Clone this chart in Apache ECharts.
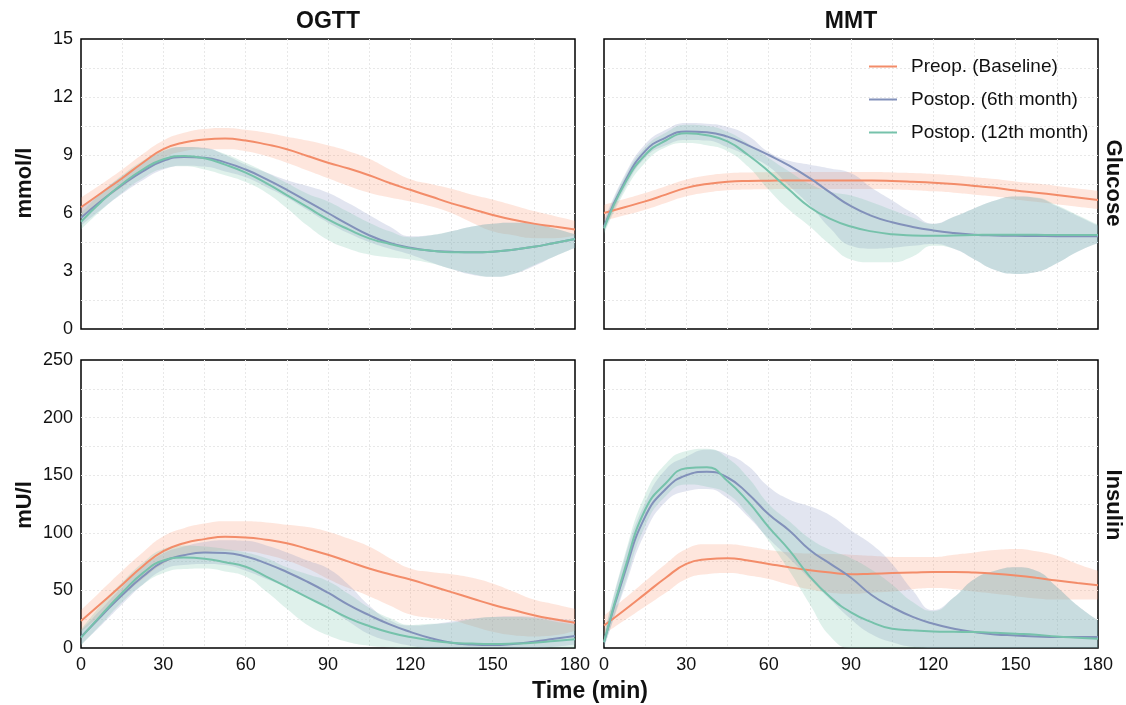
<!DOCTYPE html>
<html>
<head>
<meta charset="utf-8">
<script src="https://cdn.jsdelivr.net/npm/echarts@6/dist/echarts.min.js"></script>
<style>
  html, body { margin: 0; padding: 0; background: #fff; }
  #main { width: 1126px; height: 705px; }
</style>
</head>
<body>
<div id="main"></div>
<script>
// time points (min)
var times = [0, 7.5, 15, 22.5, 30, 37.5, 45, 52.5, 60, 67.5, 75, 82.5, 90,
             97.5, 105, 112.5, 120, 127.5, 135, 142.5, 150, 157.5, 165, 172.5, 180];
var groupNames = ['Preop. (Baseline)', 'Postop. (6th month)', 'Postop. (12th month)'];

// OGTT glucose (mmol/l)
var ogttGluPre   = [6.3, 7.05, 7.8, 8.6, 9.3, 9.65, 9.8, 9.85, 9.75, 9.55, 9.3, 8.95, 8.6, 8.3, 7.95, 7.55, 7.2, 6.85, 6.5, 6.2, 5.9, 5.65, 5.45, 5.3, 5.15];
var ogttGluPreLo = [5.8, 6.6, 7.35, 8.15, 8.85, 9.2, 9.3, 9.3, 9.2, 8.95, 8.6, 8.2, 7.8, 7.4, 7.05, 6.8, 6.6, 6.35, 6.0, 5.5, 5.05, 4.85, 4.7, 4.7, 4.85];
var ogttGluPreHi = [6.8, 7.5, 8.25, 9.05, 9.75, 10.15, 10.35, 10.4, 10.3, 10.15, 9.95, 9.75, 9.5, 9.2, 8.8, 8.25, 7.75, 7.5, 7.25, 6.95, 6.7, 6.4, 6.1, 5.85, 5.6];
var ogttGlu6     = [5.75, 6.65, 7.45, 8.15, 8.7, 8.9, 8.86, 8.62, 8.25, 7.75, 7.2, 6.6, 6.0, 5.4, 4.85, 4.45, 4.2, 4.05, 4.0, 3.97, 4.0, 4.1, 4.25, 4.45, 4.65];
var ogttGlu6Lo   = [5.35, 6.2, 7.0, 7.7, 8.25, 8.45, 8.4, 8.15, 7.85, 7.35, 6.8, 6.15, 5.5, 4.95, 4.5, 4.15, 3.85, 3.45, 3.1, 2.8, 2.7, 2.85, 3.25, 3.75, 4.2];
var ogttGlu6Hi   = [6.25, 7.1, 7.9, 8.6, 9.2, 9.42, 9.38, 9.0, 8.5, 8.1, 7.7, 7.4, 7.05, 6.5, 5.9, 5.3, 4.8, 4.85, 5.05, 5.3, 5.45, 5.5, 5.45, 5.2, 4.9];
var ogttGlu12    = [5.55, 6.6, 7.5, 8.25, 8.78, 8.95, 8.83, 8.5, 8.09, 7.55, 6.93, 6.3, 5.67, 5.15, 4.69, 4.4, 4.17, 4.05, 3.97, 3.97, 4.0, 4.1, 4.25, 4.45, 4.65];
var ogttGlu12Lo  = [5.15, 6.15, 7.05, 7.8, 8.3, 8.42, 8.25, 7.95, 7.6, 7.05, 6.25, 5.35, 4.6, 4.15, 3.85, 3.7, 3.6, 3.4, 3.1, 2.85, 2.7, 2.85, 3.3, 3.75, 4.2];
var ogttGlu12Hi  = [6.0, 7.05, 7.95, 8.7, 9.25, 9.42, 9.35, 9.05, 8.6, 8.1, 7.55, 7.0, 6.6, 6.05, 5.5, 5.05, 4.75, 4.85, 5.05, 5.3, 5.45, 5.5, 5.45, 5.2, 4.9];

// MMT glucose (mmol/l)
var mmtGluPre    = [6.0, 6.3, 6.6, 6.95, 7.3, 7.5, 7.62, 7.66, 7.67, 7.68, 7.68, 7.68, 7.68, 7.68, 7.66, 7.62, 7.57, 7.5, 7.4, 7.3, 7.16, 7.05, 6.93, 6.8, 6.67];
var mmtGluPreLo  = [5.6, 5.88, 6.17, 6.52, 6.86, 7.06, 7.18, 7.22, 7.23, 7.24, 7.24, 7.24, 7.24, 7.24, 7.22, 7.18, 7.12, 7.05, 6.95, 6.85, 6.7, 6.58, 6.45, 6.32, 6.2];
var mmtGluPreHi  = [6.42, 6.72, 7.03, 7.38, 7.73, 7.94, 8.06, 8.1, 8.11, 8.12, 8.12, 8.12, 8.12, 8.12, 8.1, 8.07, 8.02, 7.95, 7.85, 7.76, 7.63, 7.52, 7.4, 7.27, 7.15];
var mmtGlu6      = [5.3, 7.6, 9.2, 9.9, 10.22, 10.18, 9.95, 9.5, 9.0, 8.45, 7.8, 7.05, 6.35, 5.85, 5.52, 5.28, 5.1, 4.97, 4.88, 4.84, 4.82, 4.81, 4.8, 4.8, 4.8];
var mmtGlu6Lo    = [5.0, 7.25, 8.85, 9.5, 9.78, 9.75, 9.4, 8.95, 8.4, 7.4, 6.4, 5.2, 4.3, 4.15, 4.2, 4.3, 4.4, 4.15, 3.6, 3.05, 2.85, 2.95, 3.4, 4.0, 4.45];
var mmtGlu6Hi    = [5.6, 7.95, 9.55, 10.3, 10.66, 10.62, 10.45, 10.0, 9.15, 8.7, 8.5, 8.3, 8.05, 7.3, 6.65, 6.0, 5.45, 5.8, 6.25, 6.65, 6.85, 6.78, 6.35, 5.85, 5.35];
var mmtGlu12     = [5.2, 7.5, 9.0, 9.75, 10.12, 10.02, 9.7, 9.0, 8.15, 7.2, 6.3, 5.7, 5.3, 5.05, 4.9, 4.84, 4.82, 4.84, 4.86, 4.88, 4.88, 4.87, 4.86, 4.86, 4.86];
var mmtGlu12Lo   = [4.9, 7.1, 8.6, 9.4, 9.62, 9.5, 9.2, 8.4, 7.2, 6.15, 5.3, 4.35, 3.6, 3.45, 3.45, 3.75, 4.3, 4.15, 3.6, 3.05, 2.85, 2.95, 3.4, 4.0, 4.45];
var mmtGlu12Hi   = [5.5, 7.85, 9.4, 10.15, 10.56, 10.5, 10.2, 9.6, 8.85, 8.15, 7.5, 7.1, 6.9, 6.55, 6.15, 5.75, 5.43, 5.8, 6.25, 6.65, 6.85, 6.8, 6.4, 5.9, 5.4];

// OGTT insulin (mU/l)
var ogttInsPre   = [23.5, 39, 55, 71, 84, 91, 94.5, 96.5, 96, 94, 91, 86, 81, 75, 69, 64, 59.5, 54, 48.5, 43, 37.5, 33, 28.5, 25, 22];
var ogttInsPreLo = [14, 29, 45, 60, 73, 80, 83, 84.5, 84, 81, 76, 69, 60, 52, 45, 37, 29, 26, 24, 19, 14, 11, 10, 11, 15];
var ogttInsPreHi = [33, 50, 67, 83, 97, 104, 108, 110, 110, 109, 107, 105, 101, 95, 88, 78, 69, 66, 64, 61, 56, 49, 42, 38, 34];
var ogttIns6     = [9.5, 28, 46, 62, 75, 80.5, 82.8, 82.5, 79.5, 73.5, 66, 57.5, 48, 37.5, 28.5, 20.5, 14, 8.5, 4.5, 3, 2.5, 3.5, 5.5, 8, 10.5];
var ogttIns6Lo   = [3, 20, 38, 55, 68, 72, 73, 72, 67, 60, 53, 44, 35, 23, 12, 6, 2, 0, 0, 0, 0, 0, 0, 1, 3];
var ogttIns6Hi   = [15, 34, 53, 70, 82, 88, 92, 93.5, 93, 89, 83, 76, 69, 55, 37, 24, 19.5, 20.5, 23, 25.5, 27, 27.5, 27, 25.5, 24];
var ogttIns12    = [9, 29, 48, 65, 76, 78.5, 77.5, 74.5, 70.5, 62, 53, 44, 35, 26, 19, 13.5, 9.5, 6.5, 4.5, 3.8, 3.5, 3.8, 4.5, 6, 7.5];
var ogttIns12Lo  = [2, 21, 40, 55, 65, 68.5, 69, 66.5, 62, 49, 34, 20, 11, 5, 2, 0.5, 0, 0, 0, 0, 0, 0, 0, 0, 0];
var ogttIns12Hi  = [16, 38, 57, 74, 86, 89, 88, 86, 83, 78, 70, 64, 58, 47, 35, 26, 20, 21, 22, 25, 27, 27, 26, 23, 20];

// MMT insulin (mU/l)
var mmtInsPre    = [19.5, 33, 47, 61, 73, 77, 78, 76, 73, 70, 67.5, 65.5, 64, 64.5, 65, 65.5, 66, 66, 65.5, 64.5, 63, 61, 58.5, 56.5, 54.5];
var mmtInsPreLo  = [12, 24, 36, 48, 60, 64, 65, 63, 60, 55, 51, 48, 47, 48, 49, 51, 52, 51, 49, 47, 45, 43, 42, 42, 42];
var mmtInsPreHi  = [28, 43, 58, 73, 86, 90, 90, 88, 85, 83, 82, 81.5, 81, 80, 79, 79, 79, 81, 83, 85, 86, 84, 80, 73, 67];
var mmtIns6      = [5, 65, 114, 138, 150, 153, 148, 134, 116, 102, 85, 73, 61, 46, 35.5, 27, 21, 16.7, 13.8, 11.8, 10.9, 10, 9.5, 9.5, 9.5];
var mmtIns6Lo    = [0, 52, 100, 127, 136, 138, 130, 114, 95, 78, 60, 42, 25, 12, 5, 1, 0, 0, 0, 0, 0, 0, 0, 0, 0];
var mmtIns6Hi    = [10, 78, 126, 155, 166, 172, 168, 158, 140, 129, 123, 115, 102, 90, 73, 50, 33, 44, 60, 67, 70, 67, 53, 37, 24];
var mmtIns12     = [5, 68, 120, 143, 156, 157, 145, 127, 105, 85, 62, 44, 31, 22.5, 16.7, 15.3, 14.4, 14.1, 13.8, 13.2, 12.4, 11.5, 10, 9, 8];
var mmtIns12Lo   = [0, 55, 106, 132, 142, 140, 134, 116, 93, 67, 38, 10, 0, 0, 0, 0, 0, 0, 0, 0, 0, 0, 0, 0, 0];
var mmtIns12Hi   = [12, 80, 133, 160, 171, 173, 165, 148, 125, 110, 95, 85, 78, 68, 55, 40, 32, 44, 60, 67, 70, 67, 53, 37, 24];

var lineColors = ['#f38c69', '#8291ba', '#76c2ab'];
var bandColors = ['rgba(250,140,100,0.22)', 'rgba(141,150,195,0.25)', 'rgba(110,190,165,0.22)'];

var panels = [
  { mean: [ogttGluPre, ogttGlu6, ogttGlu12], lo: [ogttGluPreLo, ogttGlu6Lo, ogttGlu12Lo], hi: [ogttGluPreHi, ogttGlu6Hi, ogttGlu12Hi] },
  { mean: [mmtGluPre, mmtGlu6, mmtGlu12], lo: [mmtGluPreLo, mmtGlu6Lo, mmtGlu12Lo], hi: [mmtGluPreHi, mmtGlu6Hi, mmtGlu12Hi] },
  { mean: [ogttInsPre, ogttIns6, ogttIns12], lo: [ogttInsPreLo, ogttIns6Lo, ogttIns12Lo], hi: [ogttInsPreHi, ogttIns6Hi, ogttIns12Hi] },
  { mean: [mmtInsPre, mmtIns6, mmtIns12], lo: [mmtInsPreLo, mmtIns6Lo, mmtIns12Lo], hi: [mmtInsPreHi, mmtIns6Hi, mmtIns12Hi] }
];

var FONT = 'Liberation Sans, Arial, Helvetica, sans-serif';

var grids = [
  { left: 81, top: 39, width: 494, height: 290 },
  { left: 604, top: 39, width: 494, height: 290 },
  { left: 81, top: 360, width: 494, height: 288 },
  { left: 604, top: 360, width: 494, height: 288 }
].map(function (g) {
  g.show = true; g.borderColor = '#000'; g.borderWidth = 1.5; g.backgroundColor = 'transparent';
  return g;
});

var gridLineStyle = { color: '#e8e8e8', type: [2, 2], width: 1 };

var xAxes = [0, 1, 2, 3].map(function (i) {
  return {
    type: 'category', gridIndex: i, data: times.map(String), boundaryGap: false,
    axisLine: { show: false }, axisTick: { show: false },
    // labels every 30 min, grid lines every 15 min
    axisLabel: { show: i >= 2, interval: 3, color: '#111', fontSize: 18, fontFamily: FONT, margin: 8 },
    splitLine: { show: true, interval: 1, showMinLine: false, showMaxLine: false, lineStyle: gridLineStyle }
  };
});

var yAxes = [0, 1, 2, 3].map(function (i) {
  var glu = i < 2;
  return {
    type: 'value', gridIndex: i, min: 0, max: glu ? 15 : 250, interval: glu ? 3 : 50,
    axisLine: { show: false }, axisTick: { show: false },
    axisLabel: { show: i % 2 === 0, color: '#111', fontSize: 18, fontFamily: FONT, margin: 8 },
    splitLine: { show: true, showMinLine: false, showMaxLine: false, lineStyle: gridLineStyle },
    minorTick: { show: false, splitNumber: 2 },
    minorSplitLine: { show: true, lineStyle: gridLineStyle }
  };
});

var series = [];
panels.forEach(function (p, pi) {
  // confidence bands: lower edge + stacked width
  [0, 1, 2].forEach(function (g) {
    var key = 'band' + pi + '_' + g;
    series.push({
      type: 'line', xAxisIndex: pi, yAxisIndex: pi, stack: key, smooth: 0.5,
      symbol: 'none', silent: true, lineStyle: { opacity: 0 },
      data: p.lo[g], z: 1
    });
    series.push({
      type: 'line', xAxisIndex: pi, yAxisIndex: pi, stack: key, smooth: 0.5,
      symbol: 'none', silent: true, lineStyle: { opacity: 0 },
      areaStyle: { color: bandColors[g], opacity: 1 },
      data: p.hi[g].map(function (h, k) { return +(h - p.lo[g][k]).toFixed(3); }), z: 1
    });
  });
  [0, 1, 2].forEach(function (g) {
    series.push({
      name: groupNames[g], type: 'line', xAxisIndex: pi, yAxisIndex: pi, smooth: 0.5,
      symbol: 'none', color: lineColors[g], lineStyle: { width: 2, color: lineColors[g] },
      data: p.mean[g], z: 3
    });
  });
});

function label(text, x, y, rot, size) {
  return {
    type: 'text', x: x, y: y, rotation: rot || 0,
    style: {
      text: text, textAlign: 'center', textVerticalAlign: 'middle',
      fontFamily: FONT, fontWeight: 'bold', fontSize: size || 22, fill: '#111'
    }
  };
}

var myChart = echarts.init(document.getElementById('main'), null, { renderer: 'canvas' });
myChart.setOption({
  animation: false,
  backgroundColor: '#fff',
  grid: grids,
  xAxis: xAxes,
  yAxis: yAxes,
  legend: {
    data: groupNames,
    orient: 'vertical', left: 864, top: 52,
    icon: 'rect', itemWidth: 28, itemHeight: 2,
    itemGap: 14,
    textStyle: { fontSize: 19, fontFamily: FONT, color: '#111', padding: [0, 0, 0, 9] }
  },
  graphic: [
    label('OGTT', 328, 22, 0, 23),
    label('MMT', 851, 22, 0, 23),
    label('mmol/l', 25, 183, Math.PI / 2),
    label('mU/l', 25, 505, Math.PI / 2),
    label('Glucose', 1113, 183, -Math.PI / 2),
    label('Insulin', 1113, 505, -Math.PI / 2),
    label('Time (min)', 590, 692, 0, 23)
  ],
  series: series
});
</script>
</body>
</html>
